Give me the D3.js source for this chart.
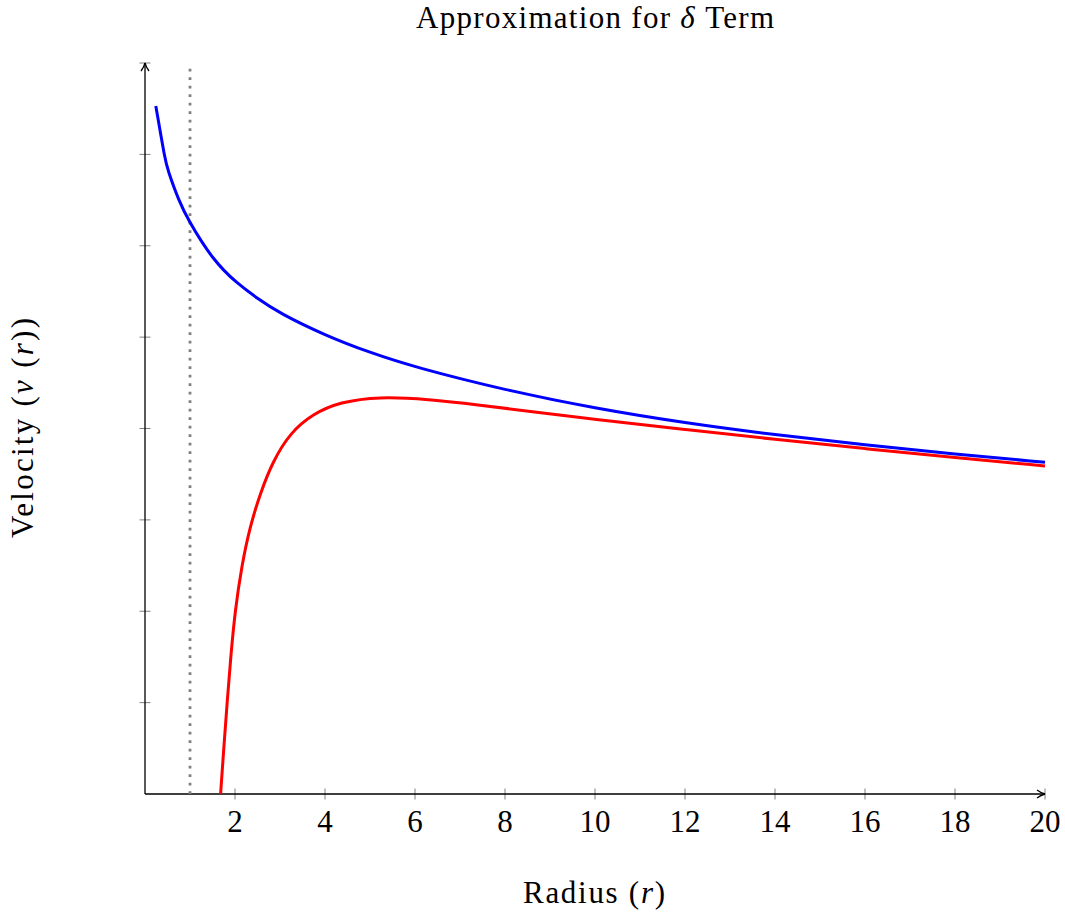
<!DOCTYPE html>
<html>
<head>
<meta charset="utf-8">
<script src="https://cdn.jsdelivr.net/npm/d3@7"></script>
<style>
  body { margin: 0; background: #fff; }
  text { font-family: "Liberation Serif", "DejaVu Serif", serif; fill: #000; }
</style>
</head>
<body>
<script>
// data
var blueR = [0.24, 0.45, 0.5, 0.75, 1, 1.25, 1.5, 1.75, 2, 2.5, 3, 4, 5, 6, 8, 10, 12, 14, 16, 18, 20];
var blueV = [7.53, 6.93, 6.84, 6.49, 6.25, 6.05, 5.87, 5.73, 5.61, 5.42, 5.26, 5.02, 4.83, 4.67, 4.42, 4.22, 4.06, 3.93, 3.82, 3.72, 3.63];

var redR = [1.68, 1.75, 1.825, 1.905, 2.0, 2.15, 2.33, 2.56, 2.84, 3.22, 3.73, 4.33, 5.2, 6.3, 7.4, 8.5, 10, 12, 14, 16, 18, 20];
var redV = [0, 0.5, 1.0, 1.5, 2.0, 2.5, 2.92, 3.29, 3.64, 3.95, 4.16, 4.29, 4.35, 4.32, 4.26, 4.19, 4.10, 3.99, 3.88, 3.78, 3.68, 3.59];

var xTicks = [2, 4, 6, 8, 10, 12, 14, 16, 18, 20];
var yTicks = [1, 2, 3, 4, 5, 6, 7, 8];
var markerR = 1;

var svgWidth = 1065;
var svgHeight = 916;
var margin = {top: 63, right: 20, bottom: 122, left: 145};
var chartWidth = 1045 - margin.left;
var chartHeight = 794 - margin.top;

var svg = d3.select("body").append("svg")
  .attr("width", svgWidth)
  .attr("height", svgHeight);

var defs = svg.append("defs");
defs.append("marker")
  .attr("id", "arrow")
  .attr("viewBox", "0 0 10 10")
  .attr("refX", 9).attr("refY", 5)
  .attr("markerWidth", 10).attr("markerHeight", 10)
  .attr("markerUnits", "userSpaceOnUse")
  .attr("orient", "auto")
  .append("path")
  .attr("d", "M1,1 Q5,4 9,5 Q5,6 1,9")
  .attr("fill", "none")
  .attr("stroke", "#000")
  .attr("stroke-width", 1.3);

var chartGroup = svg.append("g")
  .attr("transform", `translate(${margin.left}, ${margin.top})`);

var x = d3.scaleLinear().domain([0, 20]).range([0, chartWidth]);
var y = d3.scaleLinear().domain([0, 8]).range([chartHeight, 0]);

// ticks (gray, crossing the axis)
chartGroup.selectAll(".xtick")
  .data(xTicks)
  .enter().append("line")
  .attr("x1", d => x(d)).attr("x2", d => x(d))
  .attr("y1", chartHeight - 5.5).attr("y2", chartHeight + 5.5)
  .attr("stroke", "#808080").attr("stroke-width", 1);

chartGroup.selectAll(".ytick")
  .data(yTicks)
  .enter().append("line")
  .attr("y1", d => y(d)).attr("y2", d => y(d))
  .attr("x1", -5.5).attr("x2", 5.5)
  .attr("stroke", "#808080").attr("stroke-width", 1);

// axes lines with arrows
chartGroup.append("line")
  .attr("x1", 0).attr("y1", chartHeight)
  .attr("x2", chartWidth).attr("y2", chartHeight)
  .attr("stroke", "#000").attr("stroke-width", 1.3)
  .attr("marker-end", "url(#arrow)");

chartGroup.append("line")
  .attr("x1", 0).attr("y1", chartHeight)
  .attr("x2", 0).attr("y2", 0)
  .attr("stroke", "#000").attr("stroke-width", 1.3)
  .attr("marker-end", "url(#arrow)");

// tick labels
chartGroup.selectAll(".xlabel")
  .data(xTicks)
  .enter().append("text")
  .attr("x", d => x(d))
  .attr("y", chartHeight + 38)
  .attr("text-anchor", "middle")
  .attr("font-size", "31px")
  .text(d => d);

// dotted line at r = 1
chartGroup.append("line")
  .attr("x1", x(markerR)).attr("x2", x(markerR))
  .attr("y1", chartHeight).attr("y2", 3)
  .attr("stroke", "#808080")
  .attr("stroke-width", 2.8)
  .attr("stroke-dasharray", "2.8 5.7");

var smoothLine = d3.line()
  .x(d => x(d[0]))
  .y(d => y(d[1]))
  .curve(d3.curveBasis);

chartGroup.append("path")
  .datum(d3.zip(redR, redV))
  .attr("d", smoothLine)
  .attr("fill", "none")
  .attr("stroke", "#ff0000")
  .attr("stroke-width", 3);

chartGroup.append("path")
  .datum(d3.zip(blueR, blueV))
  .attr("d", smoothLine)
  .attr("fill", "none")
  .attr("stroke", "#0000ff")
  .attr("stroke-width", 3);

// title and axis labels
var title = svg.append("text")
  .attr("x", 595).attr("y", 28)
  .attr("text-anchor", "middle")
  .attr("font-size", "31px")
  .attr("textLength", 358)
  .attr("lengthAdjust", "spacing");
title.append("tspan").text("Approximation for ");
title.append("tspan").attr("font-style", "italic").text("δ");
title.append("tspan").text(" Term");

var xl = svg.append("text")
  .attr("x", 594).attr("y", 903)
  .attr("text-anchor", "middle")
  .attr("font-size", "31px")
  .attr("textLength", 142)
  .attr("lengthAdjust", "spacing");
xl.append("tspan").text("Radius (");
xl.append("tspan").attr("font-style", "italic").text("r");
xl.append("tspan").text(")");

var yl = svg.append("text")
  .attr("transform", "translate(33, 428) rotate(-90)")
  .attr("text-anchor", "middle")
  .attr("font-size", "31px")
  .attr("textLength", 220)
  .attr("lengthAdjust", "spacing");
yl.append("tspan").text("Velocity (");
yl.append("tspan").attr("font-style", "italic").text("v");
yl.append("tspan").text(" (");
yl.append("tspan").attr("font-style", "italic").text("r");
yl.append("tspan").text("))");
</script>
</body>
</html>
